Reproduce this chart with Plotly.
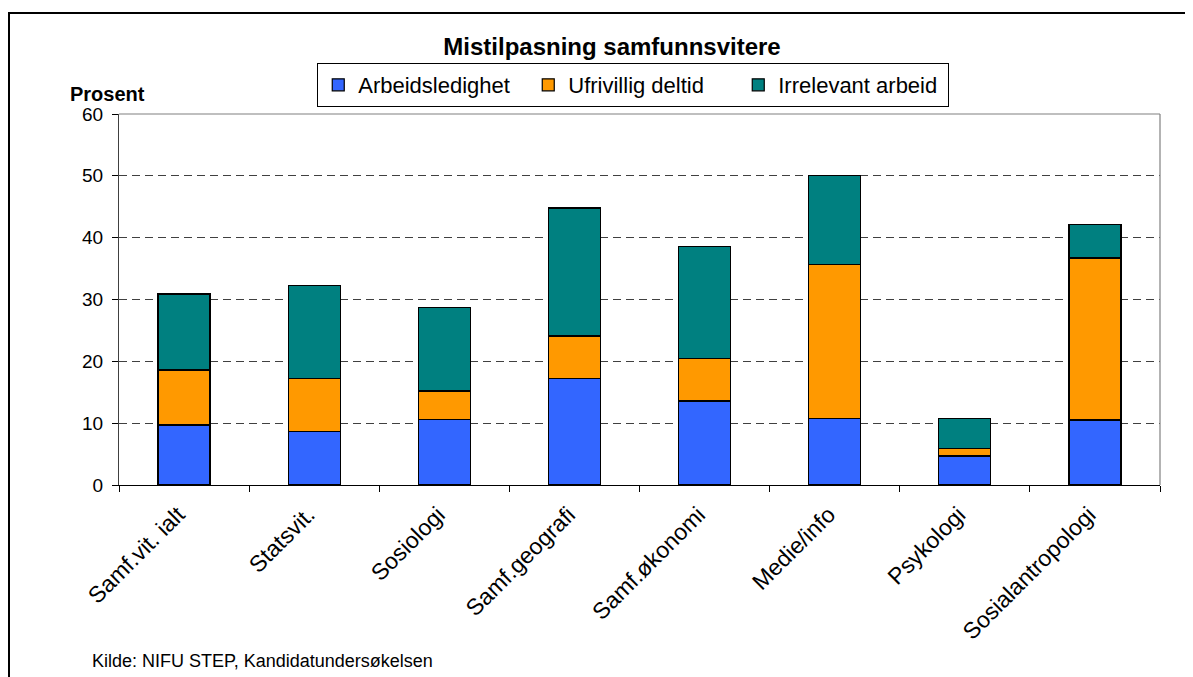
import plotly.graph_objects as go

categories = ["Samf.vit. ialt", "Statsvit.", "Sosiologi", "Samf.geografi",
              "Samf.økonomi", "Medie/info", "Psykologi", "Sosialantropologi"]
arbeidsledighet = [9.7, 8.6, 10.6, 17.2, 13.6, 10.8, 4.7, 10.5]
ufrivillig_deltid = [8.9, 8.6, 4.6, 6.9, 6.8, 24.8, 1.2, 26.2]
irrelevant_arbeid = [12.3, 15.1, 13.5, 20.7, 18.2, 14.4, 4.8, 5.4]

series = [
    ("Arbeidsledighet", arbeidsledighet, "#3366FF"),
    ("Ufrivillig deltid", ufrivillig_deltid, "#FF9900"),
    ("Irrelevant arbeid", irrelevant_arbeid, "#008080"),
]

font = "Liberation Sans, Arial, sans-serif"

# page has an 8px body margin, so the figure is a bit smaller than the window
W, H = 1185, 669

fig = go.Figure()
for name, vals, color in series:
    fig.add_trace(go.Bar(x=categories, y=vals, name=name,
                         marker=dict(color=color, line=dict(color="black", width=1.2))))

fig.update_layout(
    barmode="stack",
    bargap=0.6,
    width=W, height=H,
    margin=dict(l=111, r=33, t=106, b=192),
    paper_bgcolor="white", plot_bgcolor="white",
    font=dict(family=font, size=20, color="black"),
    title=dict(text="<b>Mistilpasning samfunnsvitere</b>", x=604 / W, xanchor="center",
               y=1 - 39 / H, yanchor="middle", font=dict(size=24)),
    legend=dict(orientation="h", x=0.494, xanchor="center", y=(485 - 85) / 371,
                yanchor="middle", bordercolor="black", borderwidth=1,
                font=dict(size=22), traceorder="normal", itemwidth=30,
                entrywidth=165),
    xaxis=dict(type="category", tickangle=-45, tickfont=dict(size=23),
               showline=True, linecolor="black", linewidth=1.2,
               ticks="outside", tickson="boundaries", ticklen=6, tickcolor="black",
               ticklabelstandoff=6, ticklabelshift=-6),
    yaxis=dict(range=[0, 60], dtick=10, tickfont=dict(size=19),
               showline=True, linecolor="#404040", linewidth=1.2,
               ticks="outside", ticklen=6, tickcolor="black", ticklabelstandoff=5,
               showgrid=True, gridcolor="#404040", griddash="8px,5px", gridwidth=1),
    annotations=[
        dict(text="<b>Prosent</b>", xref="paper", yref="paper", x=(107 - 119) / 1041,
             y=(485 - 94) / 371, xanchor="center", yanchor="middle", showarrow=False,
             font=dict(size=20)),
        dict(text="Kilde: NIFU STEP, Kandidatundersøkelsen", xref="paper", yref="paper",
             x=(90 - 119) / 1041, y=(485 - 661) / 371, xanchor="left", yanchor="middle",
             showarrow=False, font=dict(size=18)),
    ],
    shapes=[
        # grey border on top and right of plot area
        dict(type="line", xref="paper", yref="paper", x0=0, x1=1, y0=1, y1=1,
             line=dict(color="#808080", width=1.2)),
        dict(type="line", xref="paper", yref="paper", x0=1, x1=1, y0=0, y1=1,
             line=dict(color="#808080", width=1.2)),
        # outer frame
        dict(type="rect", xref="paper", yref="paper",
             x0=(9 - 119) / 1041, x1=(1192 - 119) / 1041,
             y0=(485 - 690) / 371, y1=(485 - 13) / 371,
             line=dict(color="black", width=2)),
    ],
)

fig.write_html("out.html")
